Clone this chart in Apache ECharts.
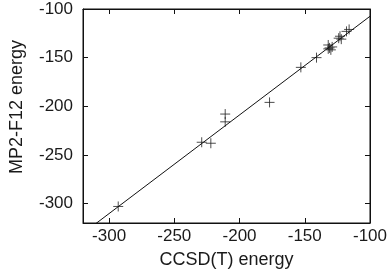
<!DOCTYPE html>
<html>
<head>
<meta charset="utf-8">
<script src="https://cdn.jsdelivr.net/npm/echarts@6/dist/echarts.min.js"></script>
<style>html,body{margin:0;padding:0;background:#fff}#c{width:390px;height:277px}</style>
</head>
<body>
<div id="c"></div>
<script>
var ccsdEnergy = [-293, -229, -222, -211, -211, -177, -153, -141, -132, -131, -130, -132, -129, -124, -123, -122, -118, -116];
var mp2Energy  = [-303, -237, -238, -208, -216, -196, -160, -150, -137, -140, -142, -141, -139, -130, -128, -131, -123, -121];
var fitSlope = 1.014;
var fitIntercept = -6.1;
var axisMin = -320, axisMax = -100, axisStep = 50;
var tickValues = [-300, -250, -200, -150, -100];
var xName = 'CCSD(T) energy';
var yName = 'MP2-F12 energy';

var points = ccsdEnergy.map(function (x, i) { return [x, mp2Energy[i]]; });
var fitLine = [axisMin, axisMax].map(function (x) { return [x, fitSlope * x + fitIntercept]; });

var font = 'Liberation Sans';
var txt = '#1a1a1a';
var chart = echarts.init(document.getElementById('c'));
function ticks() {
  return { show: true, inside: true, length: 5, lineStyle: { color: '#111' }, customValues: tickValues };
}
function ax(extra) {
  return Object.assign({
    type: 'value', min: axisMin, max: axisMax, interval: axisStep,
    axisLine: { show: true, lineStyle: { color: '#111', width: 1 } },
    axisTick: ticks(),
    splitLine: { show: false }
  }, extra);
}
chart.setOption({
  animation: false,
  grid: { left: 76, right: 18, top: 9, bottom: 54, show: true, borderColor: '#111', borderWidth: 1 },
  xAxis: [
    ax({ position: 'bottom', name: xName, nameLocation: 'middle', nameGap: 28,
      nameTextStyle: { color: txt, fontFamily: font, fontSize: 18 },
      axisLabel: { color: txt, fontFamily: font, fontSize: 17, margin: 5, customValues: tickValues } }),
    ax({ position: 'top', axisLabel: { show: false } })
  ],
  yAxis: [
    ax({ position: 'left', name: yName, nameLocation: 'middle', nameGap: 57, nameRotate: 90,
      nameTextStyle: { color: txt, fontFamily: font, fontSize: 18, padding: [0, 0, 0, 18] },
      axisLabel: { color: txt, fontFamily: font, fontSize: 17, margin: 10, customValues: tickValues } }),
    ax({ position: 'right', axisLabel: { show: false } })
  ],
  series: [
    { type: 'line', data: fitLine, symbol: 'none', clip: true,
      lineStyle: { color: '#111', width: 1 }, silent: true },
    { type: 'scatter', data: points, symbol: 'path://M5,0L5,10M0,5L10,5', symbolSize: 10,
      itemStyle: { color: 'none', borderColor: '#222', borderWidth: 1 } }
  ]
});
</script>
</body>
</html>
